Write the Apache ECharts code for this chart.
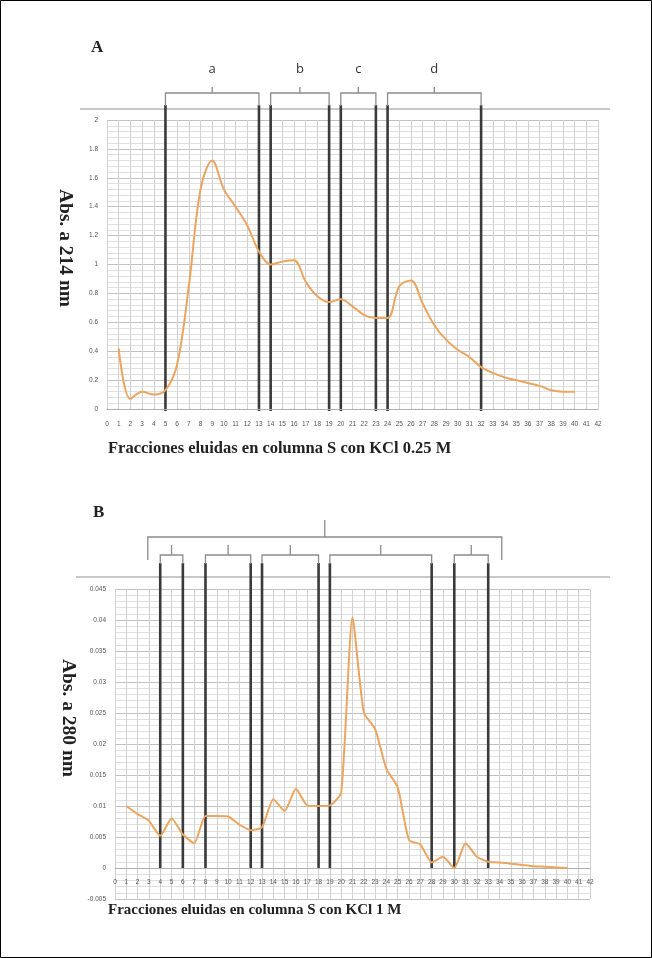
<!DOCTYPE html>
<html><head><meta charset="utf-8">
<script src="https://cdn.jsdelivr.net/npm/echarts/dist/echarts.min.js"></script>
<style>html,body{margin:0;padding:0;background:#fff}#c{width:652px;height:958px}</style>
</head><body><div id="c"></div><script>
// ---------- DATA ----------
const fractions = [1,2,3,4,5,6,7,8,9,10,11,12,13,14,15,16,17,18,19,20,21,22,23,24,25,26,27,28,29,30,31,32,33,34,35,36,37,38,39,40];
const absA = [0.42,0.07,0.12,0.10,0.13,0.31,0.85,1.52,1.72,1.52,1.40,1.27,1.09,1.00,1.02,1.03,0.88,0.78,0.74,0.76,0.71,0.65,0.63,0.63,0.85,0.89,0.73,0.58,0.48,0.41,0.36,0.29,0.25,0.22,0.20,0.18,0.16,0.13,0.12,0.12];
const absB = [0.0100,0.0087,0.0076,0.0052,0.0080,0.0054,0.0040,0.0084,0.0084,0.0083,0.0070,0.0061,0.0066,0.0111,0.0092,0.0128,0.0101,0.0100,0.0101,0.0122,0.0404,0.0251,0.0224,0.0160,0.0130,0.0045,0.0038,0.0009,0.0018,0.0000,0.0040,0.0018,0.0010,0.0009,0.0007,0.0005,0.0003,0.0002,0.0001,0.0000];
const bracketsA = [[5,13,'a'],[14,19,'b'],[20,23,'c'],[24,32,'d']];
const bracketsB = [[4,6],[8,12],[13,18],[19,28],[30,33]];
const outerBracketB = [2.9,34.2];
const titleA = 'Fracciones eluidas en columna S con KCl 0.25 M';
const titleB = 'Fracciones eluidas en columna S con KCl 1 M';
const yNameA = 'Abs. a 214 nm';
const yNameB = 'Abs. a 280 nm';

// ---------- CHART ----------
const chart = echarts.init(document.getElementById('c'), null, {renderer:'canvas'});
const serif = '"Liberation Serif", "DejaVu Serif", serif';
const lblStyle = {fontSize:6.5, color:'#555', fontFamily:'Liberation Sans'};
function xAx(gi, showLabels, margin){
  return {gridIndex:gi, type:'value', min:0, max:42, interval:1,
    axisLine:{show:true, onZero:true, lineStyle:{color:'#b0b0b0', width:1}},
    axisTick:{show:false},
    axisLabel:Object.assign({show:showLabels, margin:margin}, lblStyle),
    splitLine:{show:true, lineStyle:{color:'#d0d0d0', width:1}}};
}
function yAx(gi, min, max, interval){
  return {gridIndex:gi, type:'value', min:min, max:max, interval:interval,
    axisLine:{show:false}, axisTick:{show:false},
    axisLabel:Object.assign({margin:9}, lblStyle),
    splitLine:{show:true, lineStyle:{color:'#c2c2c2', width:1}},
    minorTick:{show:false, splitNumber:5},
    minorSplitLine:{show:true, lineStyle:{color:'#e0e0e0', width:1}}};
}
const orange = '#EBA55E';
chart.setOption({
  animation:false,
  backgroundColor:'#fff',
  grid:[
    {left:107, top:120, width:491, height:289},
    {left:115, top:589, width:475, height:310},
    {left:115, top:868.5, width:475, height:1}
  ],
  xAxis:[xAx(0,true,12), xAx(1,false,8),
    {gridIndex:2, type:'value', min:0, max:42, interval:1, axisLine:{show:false}, axisTick:{show:false},
     splitLine:{show:false}, axisLabel:Object.assign({margin:9}, lblStyle)}],
  yAxis:[yAx(0,0,2,0.2), yAx(1,-0.005,0.045,0.005),
    {gridIndex:2, type:'value', min:0, max:1, show:false}],
  series:[
    {type:'line', xAxisIndex:0, yAxisIndex:0, smooth:0.35, symbol:'none',
     lineStyle:{color:orange, width:2}, data:fractions.map((f,i)=>[f,absA[i]])},
    {type:'line', xAxisIndex:1, yAxisIndex:1, smooth:0.2, symbol:'none',
     lineStyle:{color:orange, width:2}, data:fractions.map((f,i)=>[f,absB[i]])}
  ]
});

// ---------- OVERLAY (positions from the chart's own scales) ----------
function P(gi, x, y){ return chart.convertToPixel({gridIndex:gi}, [x, y]); }
const g = [];
const dark = {stroke:'#3a3a3a', lineWidth:2.6};
const brk = {stroke:'#8c8c8c', lineWidth:1.3, fill:null};
function line(x1,y1,x2,y2,style){ g.push({type:'line', silent:true, shape:{x1,y1,x2,y2}, style:Object.assign({},style)}); }
function poly(pts,style){ g.push({type:'polyline', silent:true, shape:{points:pts}, style:Object.assign({},style)}); }
function text(x,y,t,font,align,color,rot){ g.push({type:'text', silent:true, x:x, y:y, rotation:rot||0, style:{text:t, font:font, fill:color||'#222', align:align||'left', verticalAlign:'middle'}}); }

// frame
g.push({type:'rect', silent:true, shape:{x:0.5,y:0.5,width:651,height:957}, style:{fill:null, stroke:'#000', lineWidth:1}});

// Panel A
(function(){
  const top = P(0,0,2)[1], zero = P(0,0,0)[1];
  line(80, top-11, 610, top-11, {stroke:'#c8c8c8', lineWidth:2});
  bracketsA.forEach(b=>{
    const x1 = P(0,b[0],0)[0], x2 = P(0,b[1],0)[0], xm=(x1+x2)/2;
    line(x1, top-15, x1, zero+2, dark);
    line(x2, top-15, x2, zero+2, dark);
    poly([[x1,top-14],[x1,top-27],[x2,top-27],[x2,top-14]], brk);
    line(xm, top-27, xm, top-33, brk);
    text(xm, top-51, b[2], '13px "Open Sans", "Liberation Sans", sans-serif', 'center', '#333');
  });
  text(91, 48, 'A', 'bold 17px '+serif, 'left', '#222');
  text(65, 248, yNameA, 'bold 19.5px '+serif, 'center', '#222', -Math.PI/2);
  text(108, zero+40, titleA, 'bold 16.5px '+serif, 'left', '#222');
})();

// Panel B
(function(){
  const top = P(1,0,0.045)[1], zero = P(1,0,0)[1];
  line(76, top-12, 610, top-12, {stroke:'#c8c8c8', lineWidth:2});
  bracketsB.forEach(b=>{
    const x1 = P(1,b[0],0)[0], x2 = P(1,b[1],0)[0], xm=(x1+x2)/2;
    line(x1, top-26, x1, zero, dark);
    line(x2, top-26, x2, zero, dark);
    poly([[x1,top-25],[x1,top-34],[x2,top-34],[x2,top-25]], brk);
    line(xm, top-34, xm, top-44, brk);
  });
  const o1 = P(1,outerBracketB[0],0)[0], o2 = P(1,outerBracketB[1],0)[0], om=(o1+o2)/2;
  poly([[o1,top-29],[o1,top-52],[o2,top-52],[o2,top-29]], brk);
  line(om, top-52, om, top-69, brk);
  text(93, 513, 'B', 'bold 17px '+serif, 'left', '#222');
  text(68, 718, yNameB, 'bold 19.5px '+serif, 'center', '#222', -Math.PI/2);
  text(108, zero+42, titleB, 'bold 15px '+serif, 'left', '#222');
})();

chart.setOption({graphic: g});
</script></body></html>
